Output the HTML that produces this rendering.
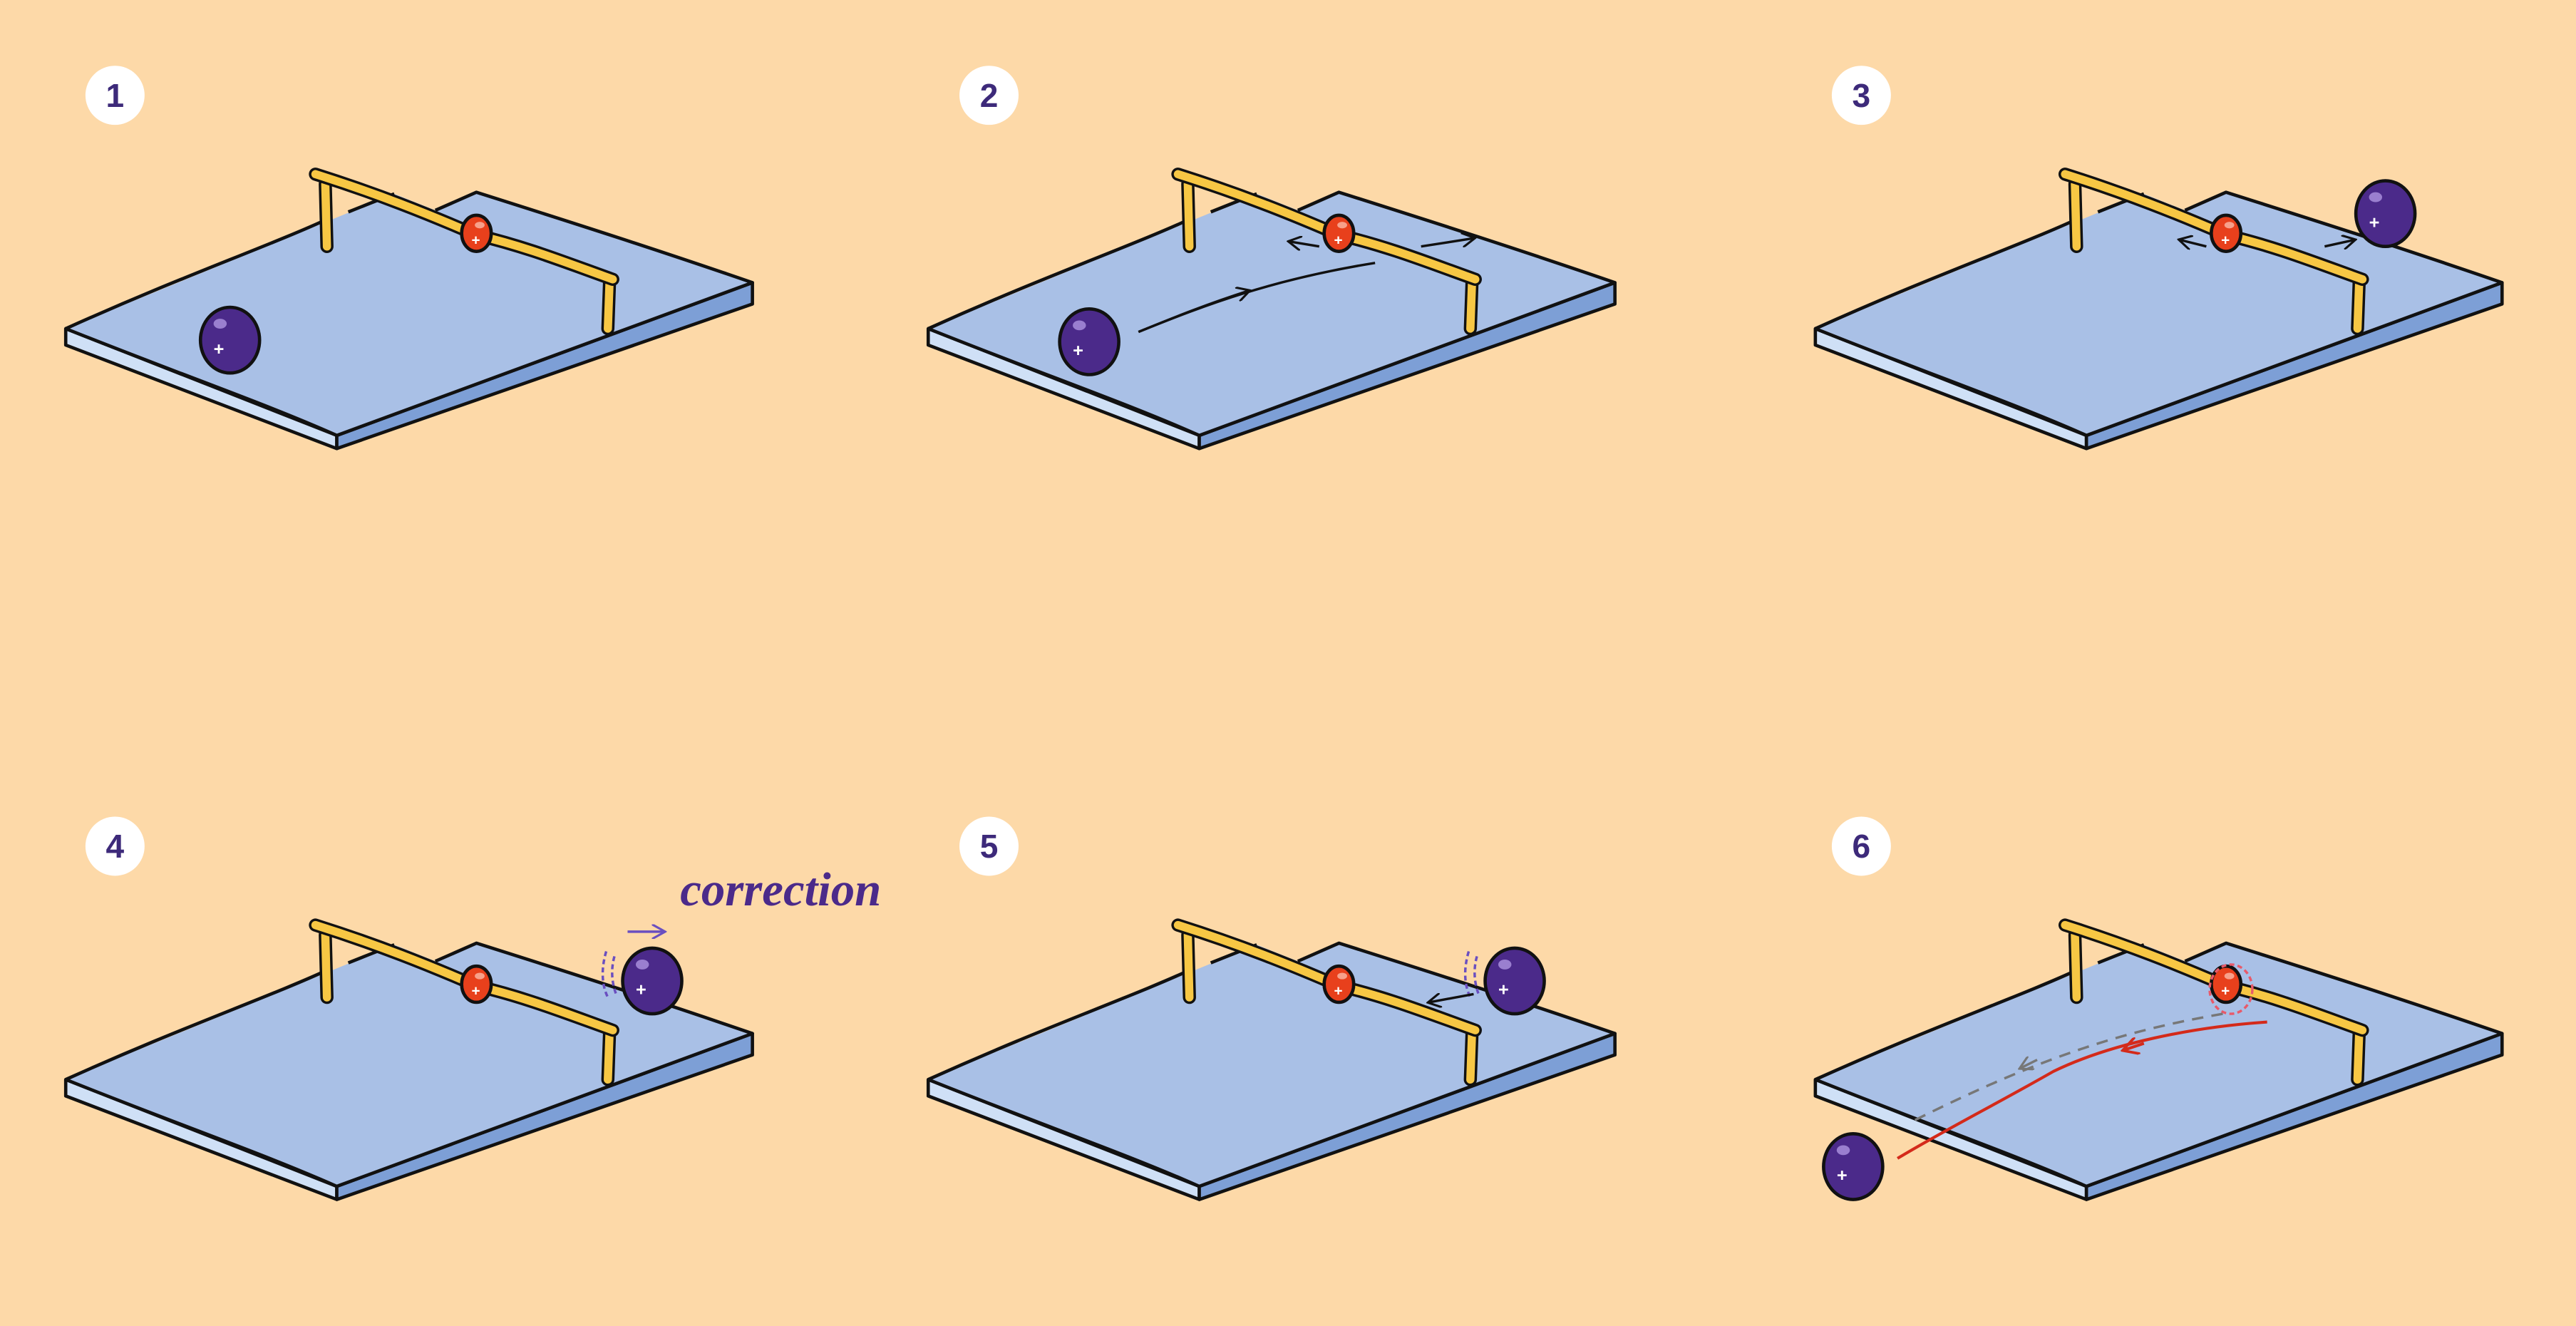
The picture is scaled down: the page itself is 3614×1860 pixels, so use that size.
<!DOCTYPE html>
<html><head><meta charset="utf-8"><style>
html,body{margin:0;padding:0;background:#fdd9a8;}
svg{display:block}
</style></head><body>
<svg width="3614" height="1860" viewBox="0 0 1568 807" xmlns="http://www.w3.org/2000/svg">
<defs>
<g id="board">
  <polygon points="40,200 205,265 205,273 40,210" fill="#cfe0f6" stroke="#111" stroke-width="2" stroke-linejoin="round"/>
  <polygon points="205,265 458,172 458,185 205,273" fill="#7d9fd6" stroke="#111" stroke-width="2" stroke-linejoin="round"/>
  <polygon points="40,200 240,118 265,128 290,117 458,172 205,265" fill="#a9c0e6"/>
  <path d="M40,200 C80,182 110,170 140,158 C165,148 185,140 200,133 M212,129 C222,125 232,121 240,118 M265,128 L290,117 C350,136 400,152 458,172 L205,265 C160,245 110,228 40,200" fill="none" stroke="#111" stroke-width="2" stroke-linejoin="round"/>
</g>
<g id="rail">
  <line x1="198" y1="112" x2="199" y2="150" stroke="#111" stroke-width="8" stroke-linecap="round"/>
  <line x1="198" y1="112" x2="199" y2="150" stroke="#f7c744" stroke-width="5" stroke-linecap="round"/>
  <line x1="371" y1="172" x2="370" y2="200" stroke="#111" stroke-width="8" stroke-linecap="round"/>
  <line x1="371" y1="172" x2="370" y2="200" stroke="#f7c744" stroke-width="5" stroke-linecap="round"/>
  <path d="M192,106 C230,118 260,130 290,143 C320,150 345,160 373,170" fill="none" stroke="#111" stroke-width="8" stroke-linecap="round"/>
  <path d="M192,106 C230,118 260,130 290,143 C320,150 345,160 373,170" fill="none" stroke="#f7c744" stroke-width="5" stroke-linecap="round"/>
  <ellipse cx="290" cy="142" rx="9" ry="11" fill="#e8401c" stroke="#111" stroke-width="2"/>
  <ellipse cx="292" cy="137" rx="3" ry="2" fill="#f7a08a"/>
  <text x="287" y="149" font-family="Liberation Sans,sans-serif" font-size="9" font-weight="bold" fill="#fff">+</text>
</g>
<g id="ball">
  <ellipse cx="0" cy="0" rx="18" ry="20" fill="#4b2a8a" stroke="#111" stroke-width="2"/>
  <ellipse cx="-6" cy="-10" rx="4" ry="3" fill="#9a7fcf"/>
  <text x="-10" y="9" font-family="Liberation Sans,sans-serif" font-size="11" font-weight="bold" fill="#fff">+</text>
</g>
<marker id="ah" viewBox="0 0 10 10" refX="8" refY="5" markerWidth="6" markerHeight="6" orient="auto"><path d="M0,0 L9,5 L0,10" fill="none" stroke="#111" stroke-width="1.5"/></marker>
<marker id="ahr" viewBox="0 0 10 10" refX="8" refY="5" markerWidth="6" markerHeight="6" orient="auto"><path d="M0,0 L9,5 L0,10" fill="none" stroke="#d42a1a" stroke-width="1.5"/></marker>
<marker id="ahg" viewBox="0 0 10 10" refX="8" refY="5" markerWidth="6" markerHeight="6" orient="auto"><path d="M0,0 L9,5 L0,10" fill="none" stroke="#777" stroke-width="1.5"/></marker>
<marker id="ahp" viewBox="0 0 10 10" refX="8" refY="5" markerWidth="6" markerHeight="6" orient="auto"><path d="M0,0 L9,5 L0,10" fill="none" stroke="#6a4fc0" stroke-width="1.5"/></marker>
</defs>

<g font-family="Liberation Sans,sans-serif" font-weight="bold" font-size="20" fill="#3d2a7a" text-anchor="middle">
<circle cx="70" cy="58" r="18" fill="#fff"/><text x="70" y="65">1</text>
<circle cx="602" cy="58" r="18" fill="#fff"/><text x="602" y="65">2</text>
<circle cx="1133" cy="58" r="18" fill="#fff"/><text x="1133" y="65">3</text>
<circle cx="70" cy="515" r="18" fill="#fff"/><text x="70" y="522">4</text>
<circle cx="602" cy="515" r="18" fill="#fff"/><text x="602" y="522">5</text>
<circle cx="1133" cy="515" r="18" fill="#fff"/><text x="1133" y="522">6</text>
</g>

<g><use href="#board"/><use href="#rail"/><use href="#ball" x="140" y="207"/></g>

<g transform="translate(525,0)">
<use href="#board"/><use href="#rail"/><use href="#ball" x="138" y="208"/>
<path d="M168,202 C210,185 250,170 312,160" fill="none" stroke="#111" stroke-width="1.5"/>
<path d="M168,202 C190,193 210,185 235,177" fill="none" stroke="#111" stroke-width="1.5" marker-end="url(#ah)"/>
<path d="M278,150 L260,147" stroke="#111" stroke-width="1.5" marker-end="url(#ah)"/>
<path d="M340,150 L372,145" stroke="#111" stroke-width="1.5" marker-end="url(#ah)"/>
</g>

<g transform="translate(1065,0)">
<use href="#board"/><use href="#rail"/><use href="#ball" x="387" y="130"/>
<path d="M278,150 L262,146" stroke="#111" stroke-width="1.5" marker-end="url(#ah)"/>
<path d="M350,150 L368,146" stroke="#111" stroke-width="1.5" marker-end="url(#ah)"/>
</g>

<g transform="translate(0,457)">
<use href="#board"/><use href="#rail"/><use href="#ball" x="397" y="140"/>
<path d="M374,125 C372,132 372,140 375,148 M369,122 C366,132 366,142 370,150" fill="none" stroke="#6a4fc0" stroke-width="1.5" stroke-dasharray="3,2"/>
<path d="M382,110 L404,110" stroke="#6a4fc0" stroke-width="1.5" marker-end="url(#ahp)"/>
</g>
<text x="414" y="551" font-family="Liberation Serif,serif" font-style="italic" font-weight="bold" font-size="29" fill="#4b2a8a">correction</text>

<g transform="translate(525,457)">
<use href="#board"/><use href="#rail"/><use href="#ball" x="397" y="140"/>
<path d="M374,125 C372,132 372,140 375,148 M369,122 C366,132 366,142 370,150" fill="none" stroke="#6a4fc0" stroke-width="1.5" stroke-dasharray="3,2"/>
<path d="M372,148 L345,153" stroke="#111" stroke-width="1.5" marker-end="url(#ah)"/>
</g>

<g transform="translate(1065,457)">
<use href="#board"/><use href="#rail"/>
<ellipse cx="293" cy="145" rx="13" ry="15" fill="none" stroke="#e85a6a" stroke-width="1.5" stroke-dasharray="3,2"/>
<path d="M288,160 C230,170 180,185 100,225" fill="none" stroke="#777" stroke-width="1.5" stroke-dasharray="7,5"/>
<path d="M175,188 L165,193" stroke="#777" stroke-width="1.5" marker-end="url(#ahg)"/>
<path d="M315,165 C270,168 220,178 185,195 C150,215 120,230 90,248" fill="none" stroke="#d42a1a" stroke-width="1.8"/>
<path d="M240,178 L228,182" stroke="#d42a1a" stroke-width="1.8" marker-end="url(#ahr)"/>
<use href="#ball" x="63" y="253"/>
</g>
</svg>
</body></html>
